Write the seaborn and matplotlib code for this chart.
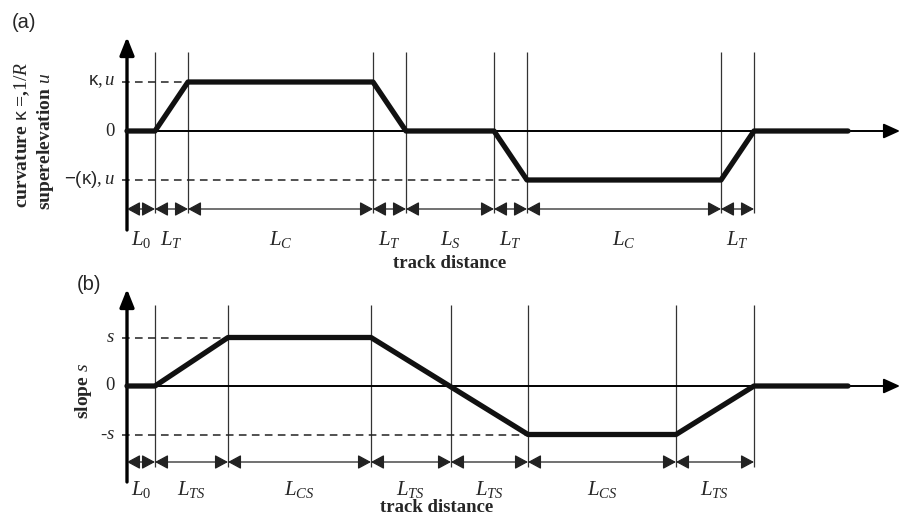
import pandas as pd
import seaborn as sns
import matplotlib.pyplot as plt

# profile breakpoints (track distance, arbitrary units) and levels
curv_x = [0, 28, 61, 246, 279, 367, 400, 594, 627, 721]
curv_y = [0, 0, 1, 1, 0, 0, -1, -1, 0, 0]
curv_bounds = [0, 28, 61, 246, 279, 367, 400, 594, 627]
curv_labels = [r'$L_{\mathit{0}}$', r'$L_T$', r'$L_C$', r'$L_T$', r'$L_S$', r'$L_T$', r'$L_C$', r'$L_T$']
curv_ticks = [1, 0, -1]
curv_ticklabels = [r'$\mathsf{\kappa},u$', '0', r'$\mathsf{-(\kappa)},u$']

slope_x = [0, 28, 101, 244, 401, 549, 627, 721]
slope_y = [0, 0, 1, 1, -1, -1, 0, 0]
slope_bounds = [0, 28, 101, 244, 324, 401, 549, 627]
slope_labels = [r'$L_{\mathit{0}}$', r'$L_{TS}$', r'$L_{CS}$', r'$L_{TS}$', r'$L_{TS}$', r'$L_{CS}$', r'$L_{TS}$']
slope_ticks = [1, 0, -1]
slope_ticklabels = [r'$s$', '0', r'$\text{-}s$']

sns.set_style('white')
plt.rcParams['font.family'] = ['Liberation Serif', 'DejaVu Serif']
plt.rcParams['mathtext.fontset'] = 'custom'
plt.rcParams['mathtext.rm'] = 'Liberation Serif'
plt.rcParams['mathtext.it'] = 'Liberation Serif:italic'
plt.rcParams['mathtext.bf'] = 'Liberation Serif:bold'
plt.rcParams['mathtext.sf'] = 'Liberation Sans'

W, H = 902, 515
fig = plt.figure(figsize=(W / 100, H / 100), dpi=100)


def panel(top, bottom, zero, unit, vtop, vbot, dim_y, lab_y,
          px, py, bounds, labels, ticks, ticklabels, dash_ends):
    ax = fig.add_axes([127 / W, 1 - bottom / H, 775 / W, (bottom - top) / H])
    ax.set_xlim(0, 775)
    ax.set_ylim(-(bottom - zero) / unit, (zero - top) / unit)
    ymin, ymax = ax.get_ylim()

    # thin vertical guides
    ax.vlines(bounds[1:], -(vbot - zero) / unit, (zero - vtop) / unit,
              color='#333333', lw=0.9, zorder=1)
    # dashed level lines
    for lvl, xe in zip([1, -1], dash_ends):
        ax.plot([-5, xe], [lvl, lvl], color='#222222', lw=1.1,
                ls=(0, (5, 3.5)), clip_on=False, zorder=1)

    # axes arrows
    ax.annotate('', xy=(773, 0), xytext=(0, 0),
                arrowprops=dict(arrowstyle='-|>,head_length=0.55,head_width=0.25',
                                mutation_scale=18, lw=1.4, color='black',
                                shrinkA=0, shrinkB=0), zorder=2)
    ax.annotate('', xy=(0, ymax), xytext=(0, ymin),
                arrowprops=dict(arrowstyle='-|>,head_length=0.6,head_width=0.24',
                                mutation_scale=18, lw=2.4, color='black',
                                shrinkA=0, shrinkB=0), zorder=3)

    # profile
    df = pd.DataFrame({'x': px, 'y': py})
    sns.lineplot(data=df, x='x', y='y', ax=ax, color='#111111', lw=3.8,
                 sort=False, estimator=None, clip_on=False, zorder=4)
    ax.axis('off')

    # dimension arrows and labels
    dy = -(dim_y - zero) / unit
    ly = -(lab_y - zero) / unit
    for x0, x1, lab in zip(bounds[:-1], bounds[1:], labels):
        ax.annotate('', xy=(x1, dy), xytext=(x0, dy),
                    arrowprops=dict(arrowstyle='<|-|>,head_length=0.5,head_width=0.27',
                                    mutation_scale=16, lw=0.9, color='#222222',
                                    shrinkA=0, shrinkB=0), annotation_clip=False)
        ax.text((x0 + x1) / 2, ly, lab, ha='center', va='center', fontsize=15)

    for t, tl in zip(ticks, ticklabels):
        ax.text(-12, t, tl, ha='right', va='center', fontsize=13.5)
    return ax


panel(37, 230, 131, 49, 52, 213, 209, 240,
      curv_x, curv_y, curv_bounds, curv_labels, curv_ticks, curv_ticklabels, [61, 400])
panel(289, 482, 386, 48.5, 305, 467, 462, 490,
      slope_x, slope_y, slope_bounds, slope_labels, slope_ticks, slope_ticklabels, [101, 401])

fig.text(24 / W, 1 - 22 / H, '(a)', family='Liberation Sans', fontsize=14.5,
         ha='center', va='center')
fig.text(89 / W, 1 - 285 / H, '(b)', family='Liberation Sans', fontsize=14.5,
         ha='center', va='center')

fig.text(22 / W, 1 - 208 / H, r'curvature $\mathsf{\kappa}$ =,$\mathit{1/R}$',
         rotation=90, rotation_mode='anchor', ha='left', va='center',
         fontsize=14, fontweight='bold')
fig.text(45 / W, 1 - 210 / H, r'superelevation $u$',
         rotation=90, rotation_mode='anchor', ha='left', va='center',
         fontsize=14, fontweight='bold')
fig.text(84 / W, 1 - 391 / H, r'slope $s$', rotation=90, ha='center', va='center',
         fontsize=14, fontweight='bold')

fig.text(450 / W, 1 - 263 / H, 'track distance', ha='center', va='center',
         fontsize=13.5, fontweight='bold')
fig.text(437 / W, 1 - 507 / H, 'track distance', ha='center', va='center',
         fontsize=13.5, fontweight='bold')

fig.savefig('out.png', dpi=100)
